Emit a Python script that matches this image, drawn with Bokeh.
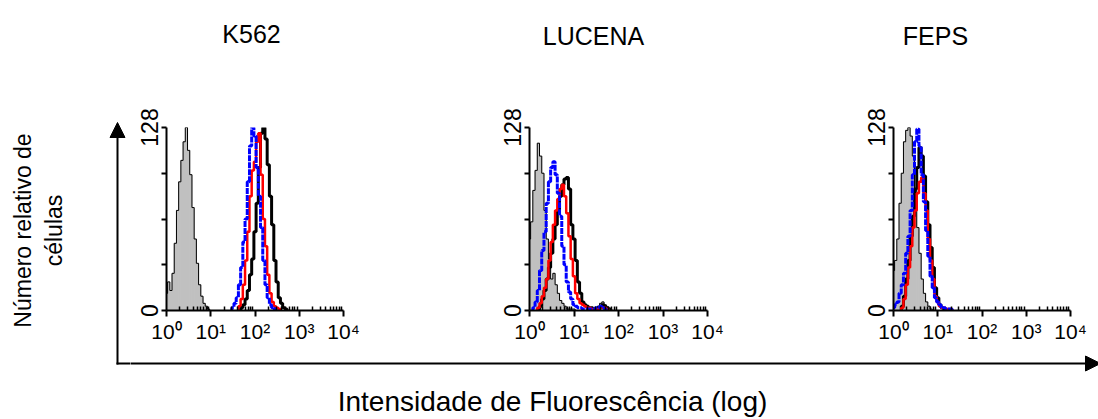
import numpy as np
from bokeh.plotting import figure
from bokeh.layouts import row, column
from bokeh.models import Range1d, FixedTicker, Arrow, NormalHead
from bokeh.core.properties import value
from bokeh.embed import file_html
from bokeh.resources import INLINE

FONT = "Liberation Sans"
BIN = 0.05  # histogram bin width in log10 units

titles = ["K562", "LUCENA", "FEPS"]
x_tick_values = [0, 1, 2, 3, 4]
x_tick_labels = ["10\u2070", "10\u00b9", "10\u00b2", "10\u00b3", "10\u2074"]
y_tick_values = [0, 128]
y_tick_labels = ["0", "128"]
y_minor_ticks = [32, 64, 96]
y_label_lines = ["Número relativo de", "células"]
x_label = "Intensidade de Fluorescência (log)"

# ---- K562 ----
k562_ctrl_start = 0.0
k562_ctrl = [12, 20, 14, 26, 47, 70, 90, 105, 118, 128, 112, 95, 72, 50, 33, 18, 10, 5, 3, 1, 0]
k562_black_start = 1.65
k562_black = [0, 2, 4, 8, 14, 25, 36, 55, 75, 100, 124, 128, 120, 102, 80, 60, 35, 20, 9, 5, 2, 1, 0]
k562_red_start = 1.60
k562_red = [0, 3, 8, 18, 35, 55, 80, 98, 104, 118, 124, 95, 64, 45, 25, 12, 6, 3, 2, 1, 0]
k562_blue_start = 1.45
k562_blue = [0, 2, 5, 9, 18, 30, 48, 64, 90, 115, 128, 122, 100, 80, 58, 35, 18, 9, 4, 2, 1, 0]

# ---- LUCENA ----
lucena_ctrl_start = 0.0
lucena_ctrl = [50, 62, 84, 98, 117, 108, 96, 70, 50, 36, 22, 26, 18, 12, 7, 5, 3, 1, 1, 1,
               1, 0, 0, 0, 0, 0, 0, 0, 0, 0, 1, 3, 5, 6, 4, 2, 1, 0]
lucena_black_start = 0.20
lucena_black = [0, 3, 8, 14, 22, 30, 40, 50, 60, 70, 80, 88, 92, 93, 85, 60, 50, 35, 20, 12,
                6, 4, 3, 2, 2, 1, 1, 2, 3, 4, 3, 2, 1, 0]
lucena_red_start = 0.15
lucena_red = [0, 2, 5, 10, 16, 22, 35, 48, 60, 70, 78, 85, 88, 80, 68, 52, 36, 24, 12, 8,
              5, 4, 3, 2, 2, 1, 1, 1, 1, 2, 2, 2, 1, 0]
lucena_blue_start = 0.05
lucena_blue = [0, 2, 6, 14, 28, 42, 55, 75, 90, 100, 104, 95, 82, 66, 45, 32, 20, 13, 8, 4,
               3, 2, 2, 1, 1, 1, 1, 1, 1, 2, 2, 3, 2, 1, 0]

# ---- FEPS ----
feps_ctrl_start = 0.0
feps_ctrl = [28, 35, 50, 75, 96, 118, 126, 128, 122, 108, 84, 58, 40, 22, 12, 6, 3, 1, 0]
feps_black_start = 0.15
feps_black = [0, 3, 10, 22, 35, 52, 66, 85, 100, 114, 108, 94, 76, 60, 44, 30, 16, 9, 4, 2, 1, 0]
feps_red_start = 0.15
feps_red = [0, 2, 8, 18, 30, 45, 58, 70, 82, 90, 93, 82, 70, 50, 35, 22, 10, 6, 3, 2, 2, 1, 1, 1, 0]
feps_blue_start = 0.0
feps_blue = [2, 4, 6, 12, 18, 26, 40, 52, 70, 95, 118, 127, 115, 95, 76, 56, 38, 24, 16, 9, 6, 4, 2, 2, 1, 1, 1, 0]


def centers(start, counts):
    return [start + i * BIN for i in range(len(counts))]


minor_x = [float(d + np.log10(k)) for d in range(4) for k in range(2, 10)]

W, H = 1098, 419
LEFT_W = 130


def panel(width, left, right, ctrl, black, red, blue):
    p = figure(width=width, height=250, x_range=Range1d(0, 4), y_range=Range1d(0, 128),
               toolbar_location=None, output_backend="svg",
               min_border_left=left, min_border_right=right,
               min_border_top=27, min_border_bottom=40)
    p.outline_line_color = None
    p.grid.visible = False
    p.background_fill_color = "white"
    p.border_fill_color = "white"

    cs, cc = ctrl
    xc = centers(cs, cc)
    p.quad(left=[x - BIN / 2 for x in xc], right=[x + BIN / 2 for x in xc],
           bottom=0, top=cc, fill_color="#c0c0c0", line_color="#c0c0c0", line_width=1)
    p.step(xc, cc, mode="center", line_color="black", line_width=1)

    bs, bc = black
    p.step(centers(bs, bc), bc, mode="center", line_color="black", line_width=3)
    rs, rc = red
    p.step(centers(rs, rc), rc, mode="center", line_color="#ff0000", line_width=2.5)
    us, uc = blue
    p.step(centers(us, uc), uc, mode="center", line_color="#0000ff", line_width=3,
           line_dash="6 1")

    xa = p.xaxis[0]
    xa.ticker = FixedTicker(ticks=x_tick_values, minor_ticks=minor_x)
    xa.major_label_overrides = {v: l for v, l in zip(x_tick_values, x_tick_labels)}
    xa.major_label_text_font = FONT
    xa.major_label_text_font_size = "21px"
    xa.major_label_text_color = "black"
    xa.major_label_standoff = 3
    xa.axis_line_width = 2
    xa.axis_line_color = "black"
    xa.major_tick_in = 0
    xa.major_tick_out = 6
    xa.major_tick_line_width = 2
    xa.minor_tick_in = 4
    xa.minor_tick_out = 0
    xa.minor_tick_line_width = 1.5
    xa.minor_tick_line_color = "black"

    ya = p.yaxis[0]
    ya.ticker = FixedTicker(ticks=y_tick_values, minor_ticks=y_minor_ticks)
    ya.major_label_overrides = {v: l for v, l in zip(y_tick_values, y_tick_labels)}
    ya.major_label_orientation = "vertical"
    ya.major_label_text_font = FONT
    ya.major_label_text_font_size = "23px"
    ya.major_label_text_color = "black"
    ya.major_label_standoff = 4
    ya.axis_line_width = 2
    ya.axis_line_color = "black"
    ya.major_tick_in = 0
    ya.major_tick_out = 5
    ya.major_tick_line_width = 2
    ya.minor_tick_in = 0
    ya.minor_tick_out = 5
    ya.minor_tick_line_width = 2
    ya.minor_tick_line_color = "black"
    return p


def deco(width, height, x0, x1, y0, y1):
    # decoration strip whose data units equal page pixels (y measured upward from the page bottom)
    p = figure(width=width, height=height, x_range=Range1d(x0, x1), y_range=Range1d(y0, y1),
               toolbar_location=None, output_backend="svg",
               x_axis_location=None, y_axis_location=None,
               min_border_left=0, min_border_right=0, min_border_top=0, min_border_bottom=0)
    p.outline_line_color = None
    p.grid.visible = False
    return p


# left strip: full page height, x 0..130
left = deco(LEFT_W, H, 0, LEFT_W, 0, H)
left.text(x=[22, 53], y=[H - 230, H - 230], text=y_label_lines, angle=np.pi / 2,
          text_font=value(FONT), text_font_size="23px", text_align="center",
          text_baseline="middle", text_color="black")
left.add_layout(Arrow(end=NormalHead(size=15, fill_color="black", line_color="black"),
                      x_start=117, y_start=H - 364, x_end=117, y_end=H - 122,
                      line_width=2, line_color="black"))
left.segment(x0=[116], y0=[H - 363], x1=[LEFT_W + 2], y1=[H - 363], line_width=2, line_color="black")

# titles strip (page y 0..100, x 130..1098)
top = deco(W - LEFT_W, 100, LEFT_W, W, H - 100, H)
top.text(x=[251, 593, 935], y=[H - 33, H - 35, H - 35], text=titles,
         text_font=value(FONT), text_font_size="25px", text_align="center",
         text_baseline="middle", text_color="black")

p1 = panel(270, 36, 57, (k562_ctrl_start, k562_ctrl), (k562_black_start, k562_black),
           (k562_red_start, k562_red), (k562_blue_start, k562_blue))
p2 = panel(366, 129, 59, (lucena_ctrl_start, lucena_ctrl), (lucena_black_start, lucena_black),
           (lucena_red_start, lucena_red), (lucena_blue_start, lucena_blue))
p3 = panel(332, 127, 28, (feps_ctrl_start, feps_ctrl), (feps_black_start, feps_black),
           (feps_red_start, feps_red), (feps_blue_start, feps_blue))

# bottom strip (page y 350..419, x 130..1098)
bottom = deco(W - LEFT_W, 69, LEFT_W, W, 0, H - 350)
bottom.add_layout(Arrow(end=NormalHead(size=15, fill_color="black", line_color="black"),
                        x_start=LEFT_W - 2, y_start=H - 363, x_end=1100, y_end=H - 363,
                        line_width=2, line_color="black"))
bottom.text(x=[552], y=[H - 401], text=[x_label], text_font=value(FONT),
            text_font_size="28px", text_align="center", text_baseline="middle",
            text_color="black")

layout = row(left, column(top, row(p1, p2, p3), bottom))
open("out.html", "w").write(file_html(layout, INLINE))
